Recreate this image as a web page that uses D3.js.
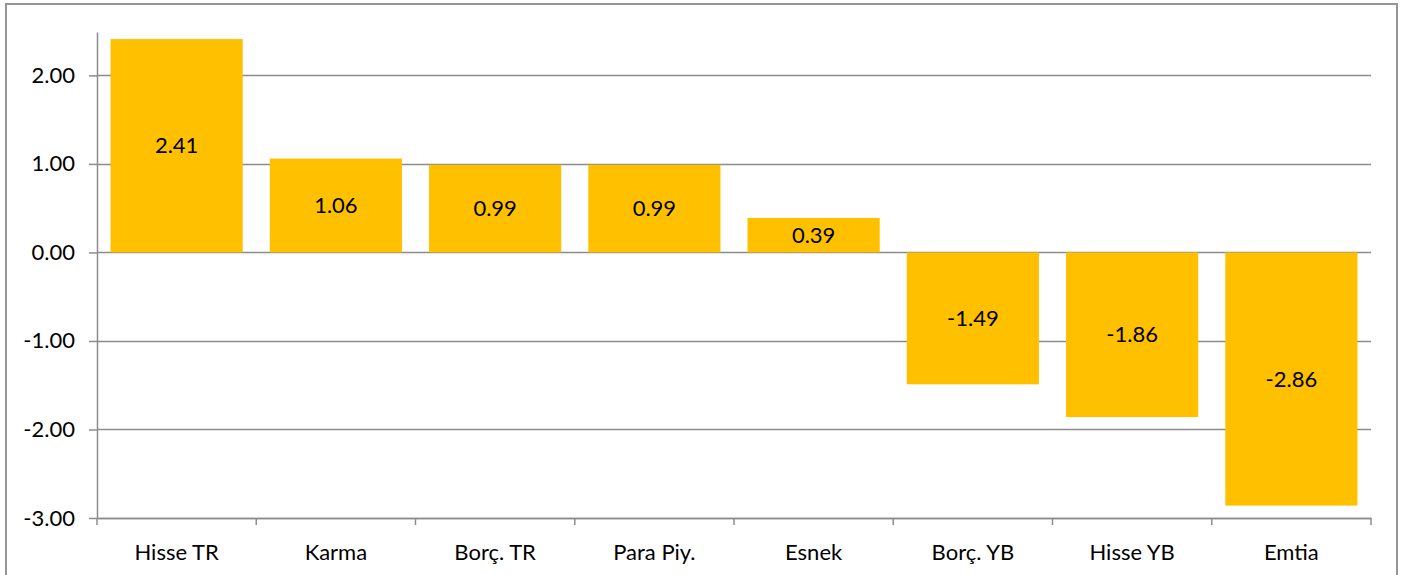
<!DOCTYPE html>
<html>
<head>
<meta charset="utf-8">
<script src="https://cdn.jsdelivr.net/npm/d3@7"></script>
<style>
  body { margin: 0; background: #fff; }
  text { font-family: Lato, "Open Sans", sans-serif; fill: #000; }
</style>
</head>
<body>
<div id="chart"></div>
<script>
// Chart data
var categories = ["Hisse TR", "Karma", "Borç. TR", "Para Piy.", "Esnek", "Borç. YB", "Hisse YB", "Emtia"];
var values = [2.41, 1.06, 0.99, 0.99, 0.39, -1.49, -1.86, -2.86];
var yTicks = [2, 1, 0, -1, -2, -3];

// Chart params
var svgWidth = 1404;
var svgHeight = 575;

var plot = { left: 97, right: 1371, top: 32, bottom: 518 };

var svg = d3.select("#chart")
  .append("svg")
  .attr("width", svgWidth)
  .attr("height", svgHeight);

// outer frame (bottom edge is cropped off)
svg.append("rect")
  .attr("x", 6)
  .attr("y", 4)
  .attr("width", 1391)
  .attr("height", 600)
  .attr("fill", "none")
  .attr("stroke", "#969696")
  .attr("stroke-width", 2);

var yScale = d3.scaleLinear()
  .domain([-3, 2.49])
  .range([plot.bottom, plot.top]);

var xScale = d3.scaleBand()
  .domain(categories)
  .range([plot.left, plot.right]);

var barPad = xScale.bandwidth() * 0.085;

// plain hyphen for negatives, like the original
var fmt = d => d.toFixed(2);

// gridlines
svg.append("g")
  .selectAll("line")
  .data(yTicks)
  .enter()
  .append("line")
  .attr("x1", plot.left)
  .attr("x2", plot.right)
  .attr("y1", d => Math.round(yScale(d)) + 0.5)
  .attr("y2", d => Math.round(yScale(d)) + 0.5)
  .attr("stroke", "#8c8c8c")
  .attr("stroke-width", 1.5);

// bars
svg.append("g")
  .selectAll("rect")
  .data(values)
  .enter()
  .append("rect")
  .attr("x", (d, i) => xScale(categories[i]) + barPad)
  .attr("width", xScale.bandwidth() - 2 * barPad)
  .attr("y", d => yScale(Math.max(0, d)))
  .attr("height", d => Math.abs(yScale(d) - yScale(0)))
  .attr("fill", "#FFC000");

// bar labels
svg.append("g")
  .selectAll("text")
  .data(values)
  .enter()
  .append("text")
  .attr("x", (d, i) => xScale(categories[i]) + xScale.bandwidth() / 2)
  .attr("y", d => (yScale(d) + yScale(0)) / 2)
  .attr("dy", "0.35em")
  .attr("text-anchor", "middle")
  .attr("font-size", "22px")
  .text(fmt);

// y axis
var leftAxis = d3.axisLeft(yScale)
  .tickValues(yTicks)
  .tickFormat(fmt)
  .tickSize(8)
  .tickSizeOuter(0)
  .tickPadding(14);

var yAxis = svg.append("g")
  .attr("transform", `translate(${plot.left}, 0)`)
  .call(leftAxis);
yAxis.selectAll("text").attr("font-size", "22px").attr("font-family", "Lato, sans-serif");

// x axis at the bottom, ticks between categories
var bottomAxis = d3.axisBottom(xScale)
  .tickSize(0)
  .tickPadding(26);

var xAxis = svg.append("g")
  .attr("transform", `translate(0, ${plot.bottom})`)
  .call(bottomAxis);
xAxis.selectAll("text").attr("font-size", "22px").attr("font-family", "Lato, sans-serif");

xAxis.selectAll(".sep")
  .data(d3.range(categories.length + 1))
  .enter()
  .append("line")
  .attr("class", "sep")
  .attr("x1", i => plot.left + i * xScale.bandwidth())
  .attr("x2", i => plot.left + i * xScale.bandwidth())
  .attr("y1", 0)
  .attr("y2", 7)
  .attr("stroke", "#8c8c8c")
  .attr("stroke-width", 1.5);

svg.selectAll(".domain")
  .attr("stroke", "#8c8c8c")
  .attr("stroke-width", 1.5);
svg.selectAll(".tick line")
  .attr("stroke", "#8c8c8c")
  .attr("stroke-width", 1.5);
</script>
</body>
</html>
